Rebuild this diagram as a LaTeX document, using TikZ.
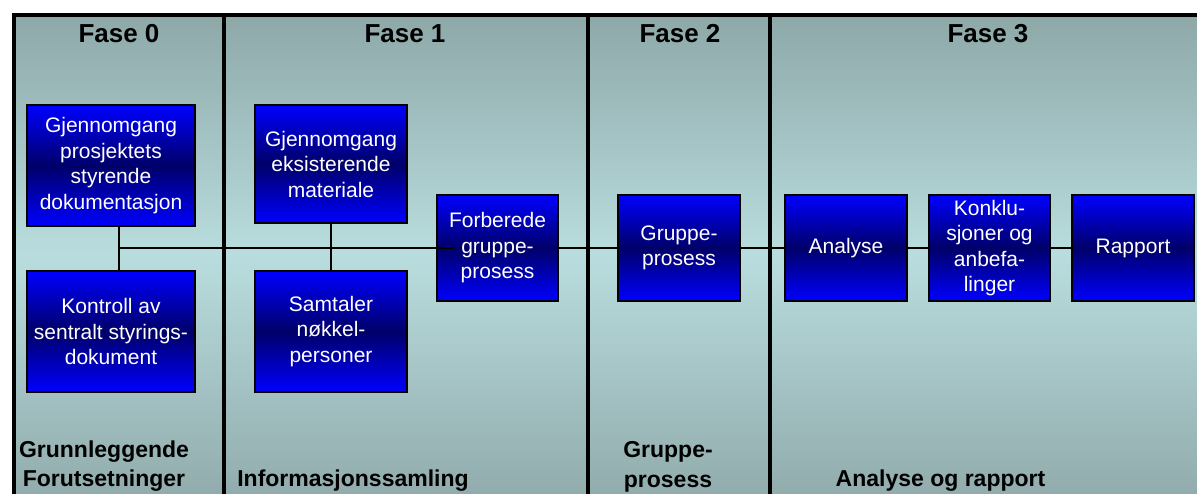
\documentclass[tikz,border=0pt]{standalone}
\usepackage{fontspec}
\setmainfont{Liberation Sans}

\definecolor{bgtop}{RGB}{142,168,168}
\definecolor{bgmid}{RGB}{185,221,222}
\definecolor{bgbot}{RGB}{146,172,173}
\definecolor{boxblue}{RGB}{0,0,255}
\definecolor{boxnavy}{RGB}{0,0,105}

\newcommand\boxfont{\fontsize{21}{25.5}\selectfont}
\newcommand\phasefont{\fontsize{26}{30}\selectfont\bfseries}
\newcommand\stagefont{\fontsize{23}{29.5}\selectfont\bfseries}

\begin{document}
\begin{tikzpicture}[x=1pt,y=-1pt,
  frame/.style={line width=4pt, draw=black},
  taskbox/.style={draw=black, line width=1.5pt, rectangle,
    top color=boxblue, bottom color=boxblue, middle color=boxnavy,
    text=white, align=center, font=\boxfont, inner sep=2pt},
  link/.style={draw=black, line width=1.5pt},
  phase/.style={font=\phasefont, anchor=base, inner sep=0pt},
  stage/.style={font=\stagefont, anchor=south, align=center, inner sep=0pt}]

\useasboundingbox (0,0) rectangle (1197,494);
\fill[white] (0,0) rectangle (1197,494);

% shaded panel
\fill[top color=bgtop, bottom color=bgbot, middle color=bgmid] (14,15) rectangle (1197,494);

% phase headings
\node[phase] (f0) at (119,43) {Fase 0};
\node[phase] (f1) at (405,43) {Fase 1};
\node[phase] (f2) at (680,43) {Fase 2};
\node[phase] (f3) at (988,43) {Fase 3};

% stage names along the bottom
\node[stage] (s0) at (104,492) {Grunnleggende\\Forutsetninger};
\node[stage] (s1) at (353,492) {Informasjonssamling};
\node[stage] (s2) at (668,492) {Gruppe-\\prosess};
\node[stage] (s3) at (940.5,492) {Analyse og rapport};

% task boxes
\node[taskbox, minimum width=168, minimum height=121] (a) at (111,165.5)
  {Gjennomgang\\prosjektets\\styrende\\dokumentasjon};
\node[taskbox, minimum width=168, minimum height=121] (b) at (111,331.5)
  {Kontroll av\\sentralt styrings-\\dokument};
\node[taskbox, minimum width=152, minimum height=118] (c) at (331,164)
  {Gjennomgang\\eksisterende\\materiale};
\node[taskbox, minimum width=152, minimum height=121] (d) at (331,331.5)
  {Samtaler\\nøkkel-\\personer};
\node[taskbox, minimum width=121, minimum height=106] (e) at (497.5,248)
  {Forberede\\gruppe-\\prosess};
\node[taskbox, minimum width=122, minimum height=106] (g) at (679,248)
  {Gruppe-\\prosess};
\node[taskbox, minimum width=122, minimum height=106] (an) at (846,248)
  {Analyse};
\node[taskbox, minimum width=121, minimum height=106] (k) at (989.5,248)
  {Konklu-\\sjoner og\\anbefa-\\linger};
\node[taskbox, minimum width=122, minimum height=106] (r) at (1133,248)
  {Rapport};

% connectors
\coordinate (j0) at (119,248);
\coordinate (e0) at (453,248);
\draw[link] (a.south -| j0) -- (b.north -| j0);
\draw[link] (c.south) -- (d.north);
\draw[link] (j0) -- (e0);
\draw[link] (e.east) -- (g.west);
\draw[link] (g.east) -- (an.west);
\draw[link] (an.east) -- (k.west);
\draw[link] (k.east) -- (r.west);

% panel frame and column dividers
\draw[frame] (14,494) -- (14,15) -- (1197,15);
\draw[frame] (224,15) -- (224,494);
\draw[frame] (588,15) -- (588,494);
\draw[frame] (769.5,15) -- (769.5,494);

\end{tikzpicture}
\end{document}
